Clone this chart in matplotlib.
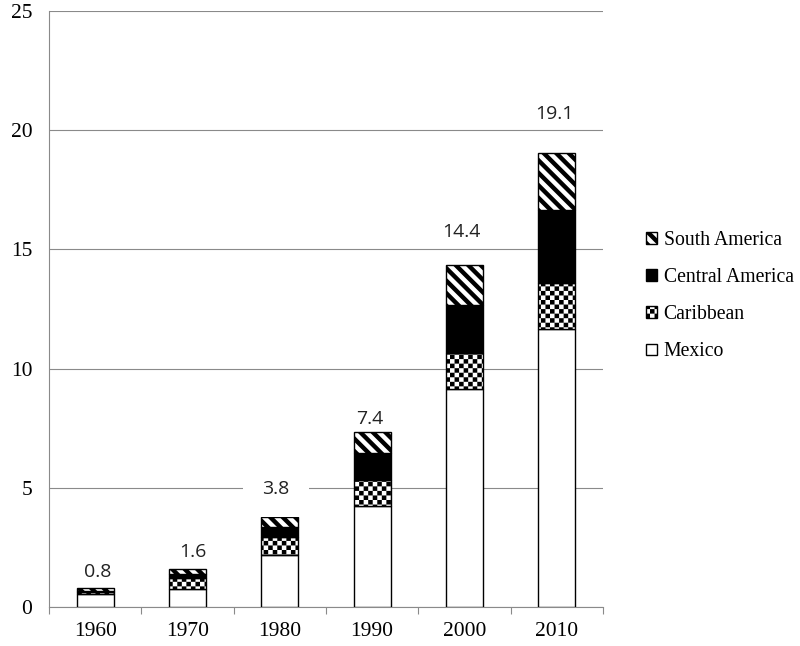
import numpy as np
import matplotlib
matplotlib.use("Agg")
import matplotlib.pyplot as plt
import matplotlib.hatch as mhatch
from matplotlib.path import Path
from matplotlib.patches import Patch

# ---------------- data ----------------
years = ["1960", "1970", "1980", "1990", "2000", "2010"]
mexico = [0.55, 0.74, 2.18, 4.25, 9.13, 11.65]
caribbean = [0.09, 0.46, 0.74, 1.08, 1.54, 1.95]
central_america = [0.05, 0.18, 0.42, 1.14, 2.00, 3.05]
south_america = [0.09, 0.21, 0.45, 0.88, 1.68, 2.40]
totals = [0.8, 1.6, 3.8, 7.4, 14.4, 19.1]
series_names = ["Mexico", "Caribbean", "Central America", "South America"]

# label offsets in points (dx, dy above bar top)
label_offsets = [(2, 12), (4, 12), (-3, 20), (-2, 9), (-2, 24), (-2, 28)]


# ---------------- custom hatch textures ----------------
class CheckerHatch(mhatch.HatchPatternBase):
    def __init__(self, hatch, density):
        self.n = 22 if "x" in hatch else 0
        self.cells = [(i, j) for i in range(self.n) for j in range(self.n)
                      if (i + j) % 2 == 0]
        self.num_vertices = len(self.cells) * 5

    def set_vertices_and_codes(self, vertices, codes):
        s = 1.0 / self.n
        k = 0
        for i, j in self.cells:
            x0, y0 = i * s, j * s
            vertices[k:k + 5] = [(x0, y0), (x0 + s, y0), (x0 + s, y0 + s),
                                 (x0, y0 + s), (x0, y0)]
            codes[k:k + 5] = [Path.MOVETO, Path.LINETO, Path.LINETO,
                              Path.LINETO, Path.CLOSEPOLY]
            k += 5


class StripeHatch(mhatch.HatchPatternBase):
    def __init__(self, hatch, density):
        self.n = 8 if "\\" in hatch else 0
        if self.n:
            p = 1.0 / self.n
            self.cs = np.arange(-2 * p, 2 + 2 * p, p)
        else:
            self.cs = []
        self.num_vertices = len(self.cs) * 5

    def set_vertices_and_codes(self, vertices, codes):
        p = 1.0 / self.n
        w = 0.5 * p
        a, b = -0.05, 1.05
        k = 0
        for c in self.cs:
            vertices[k:k + 5] = [(c - a, a), (c + w - a, a), (c + w - b, b),
                                 (c - b, b), (c - a, a)]
            codes[k:k + 5] = [Path.MOVETO, Path.LINETO, Path.LINETO,
                              Path.LINETO, Path.CLOSEPOLY]
            k += 5


mhatch._hatch_types[:] = [CheckerHatch, StripeHatch]

plt.rcParams["hatch.linewidth"] = 0.0
plt.rcParams["hatch.color"] = "black"

SERIF = ["Liberation Serif", "DejaVu Serif"]
SANS = ["Open Sans", "DejaVu Sans"]
GRID = "#8a8a8a"

fig = plt.figure(figsize=(8.0, 6.46), dpi=100)
ax = fig.add_axes([49 / 800, 1 - 607 / 646, (603 - 49) / 800, (607 - 11) / 646])

x = np.arange(len(years))
width = 0.4
styles = [
    dict(facecolor="white", hatch=None),
    dict(facecolor="white", hatch="x"),
    dict(facecolor="black", hatch=None),
    dict(facecolor="white", hatch="\\"),
]
bottom = np.zeros(len(years))
for vals, st, name in zip([mexico, caribbean, central_america, south_america],
                          styles, series_names):
    ax.bar(x, vals, width, bottom=bottom, facecolor=st["facecolor"],
           hatch=st["hatch"], edgecolor="black", linewidth=1.0,
           label=name, zorder=3)
    bottom = bottom + np.array(vals)

for i, t in enumerate(totals):
    dx, dy = label_offsets[i]
    kw = {}
    if years[i] == "1980":
        kw["bbox"] = dict(facecolor="white", edgecolor="none", pad=14)
    ax.annotate(f"{t:.1f}", xy=(x[i], bottom[i]), xytext=(dx, dy),
                textcoords="offset points", ha="center", va="center",
                fontsize=14, family=SANS, color="#222222", zorder=4, **kw)

ax.set_xlim(-0.5, len(years) - 0.5)
ax.set_ylim(0, 25)
ax.set_yticks(np.arange(0, 26, 5))
ax.set_xticks(x)
ax.set_xticklabels(years)
ax.set_xticks(np.arange(-0.5, len(years), 1.0), minor=True)
ax.set_yticks([0], minor=True)
ax.tick_params(axis="both", which="major", length=0, labelsize=15.5,
               labelcolor="black")
ax.tick_params(axis="x", which="major", pad=11)
ax.tick_params(axis="y", which="major", pad=12)
ax.tick_params(axis="x", which="minor", length=5, width=0.8, color=GRID,
               direction="out")
ax.tick_params(axis="y", which="minor", length=6, width=0.8, color=GRID,
               direction="out")
for lab in ax.get_xticklabels() + ax.get_yticklabels():
    lab.set_family(SERIF)

ax.yaxis.grid(True, color=GRID, linewidth=0.8, zorder=0)
ax.set_axisbelow(True)
for side in ["top", "right"]:
    ax.spines[side].set_visible(False)
for side in ["left", "bottom"]:
    ax.spines[side].set_color(GRID)
    ax.spines[side].set_linewidth(0.8)

handles = [Patch(facecolor=st["facecolor"], hatch=st["hatch"],
                 edgecolor="black", linewidth=1.0, label=n)
           for st, n in zip(styles, series_names)][::-1]
fig.legend(handles=handles, loc="upper left",
           bbox_to_anchor=(646 / 800, 1 - 231 / 646),
           frameon=False, prop=dict(family=SERIF, size=14.2),
           handlelength=0.55, handleheight=0.55, handletextpad=0.35,
           labelspacing=0.92, borderaxespad=0.0, borderpad=0.0)

fig.savefig("out.png", dpi=100)
